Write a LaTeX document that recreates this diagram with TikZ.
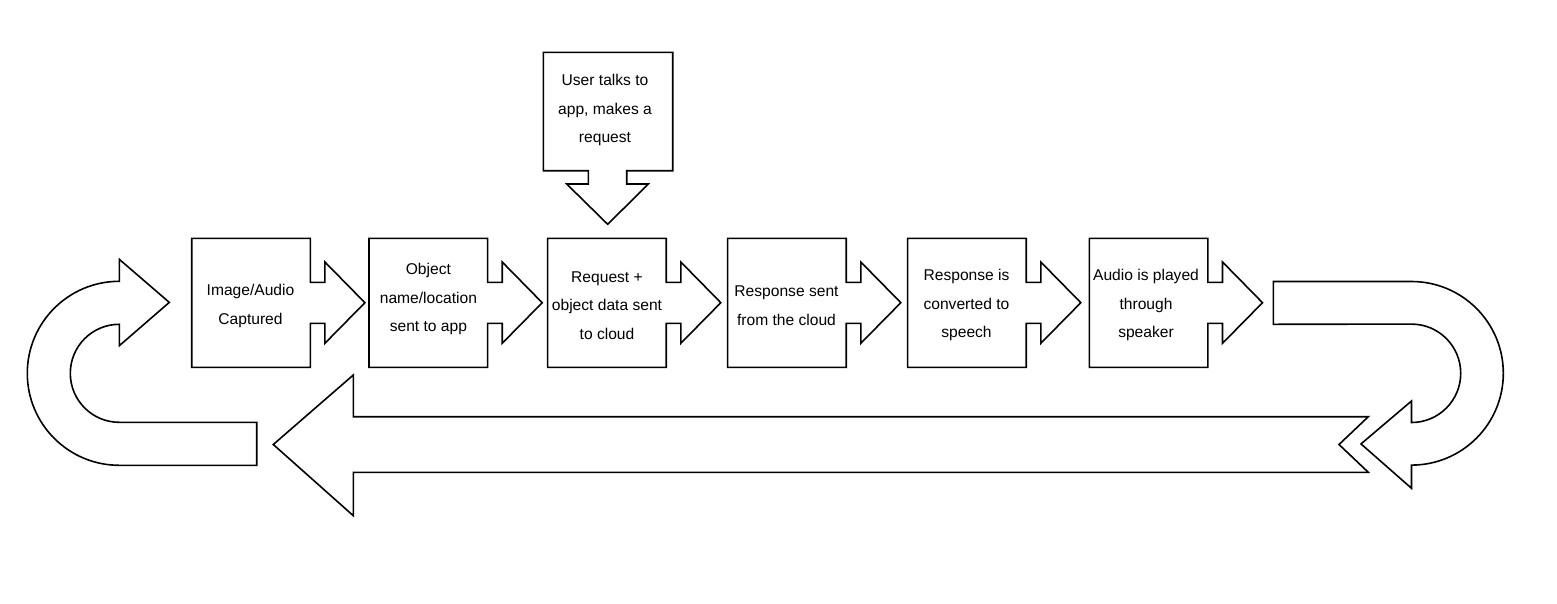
\documentclass[tikz,border=0pt]{standalone}
\usepackage{fontspec}
\setmainfont{Liberation Sans}
\begin{document}
\begin{tikzpicture}[x=1pt,y=-1pt,
  shapeline/.style={draw=black, line width=1.6pt, fill=white, line join=miter},
  lbl/.style={align=center, inner sep=0pt, font=\fontsize{15.6}{28.5}\selectfont},
  % process step: box with a right-pointing arrow head on its right side
  rcallout/.pic={\path[shapeline] (0,0) -- (118.6,0) -- (118.6,44) -- (133.2,44) -- (133.2,23.7)
      -- (173.2,64.4) -- (133.2,105) -- (133.2,85) -- (118.6,85) -- (118.6,129) -- (0,129) -- cycle;}
]
\useasboundingbox (0,0) rectangle (1557,603);

% user request box pointing down into the third step
\path[shapeline] (543.3,52.3) -- (672.7,52.3) -- (672.7,170.7) -- (626.7,170.7) -- (626.7,184)
  -- (648.3,184) -- (607.7,224.3) -- (566.7,184) -- (588.3,184) -- (588.3,170.7)
  -- (543.3,170.7) -- cycle;
\node[lbl] (req) at (605,110.4) {User talks to\\app, makes a\\request};

% the six process steps
\pic at (191.7,238.3) {rcallout};
\pic at (369,238.3) {rcallout};
\pic at (547.6,238.3) {rcallout};
\pic at (727.6,238.3) {rcallout};
\pic at (907.6,238.3) {rcallout};
\pic at (1089.3,238.3) {rcallout};

\node[lbl] (s1) at (250.5,306) {Image/Audio\\Captured};
\node[lbl] (s2) at (428.4,299.4) {Object\\name/location\\sent to app};
\node[lbl] (s3) at (607,305.5) {Request +\\object data sent\\to cloud};
\node[lbl] (s4) at (786.5,305.8) {Response sent\\from the cloud};
\node[lbl] (s5) at (966.5,305) {Response is\\converted to\\speech};
\node[lbl] (s6) at (1146,305) {Audio is played\\through\\speaker};

% return path: U-turn on the right
\path[shapeline] (1273.3,281.5) -- (1411.5,281.5) arc[start angle=-90, end angle=90, radius=91.8]
  -- (1411.5,488.3) -- (1361,443.9) -- (1411.5,401) -- (1411.5,422.5)
  arc[start angle=90, end angle=-90, radius=49.2] -- (1273.3,324.3) -- cycle;

% long arrow back to the start
\path[shapeline] (1368.3,416.7) -- (353.3,416.7) -- (353.3,375) -- (273.3,444.5) -- (353.3,515.7)
  -- (353.3,472.3) -- (1368.3,472.3) -- (1339,444.5) -- cycle;

% U-turn on the left, into the first step
\path[shapeline] (256.7,465.3) -- (119.3,465.3) arc[start angle=90, end angle=270, radius=92]
  -- (119.3,259.3) -- (169.3,302.4) -- (119.3,345.7) -- (119.3,324.3)
  arc[start angle=270, end angle=90, radius=49] -- (256.7,422.3) -- cycle;
\end{tikzpicture}
\end{document}
